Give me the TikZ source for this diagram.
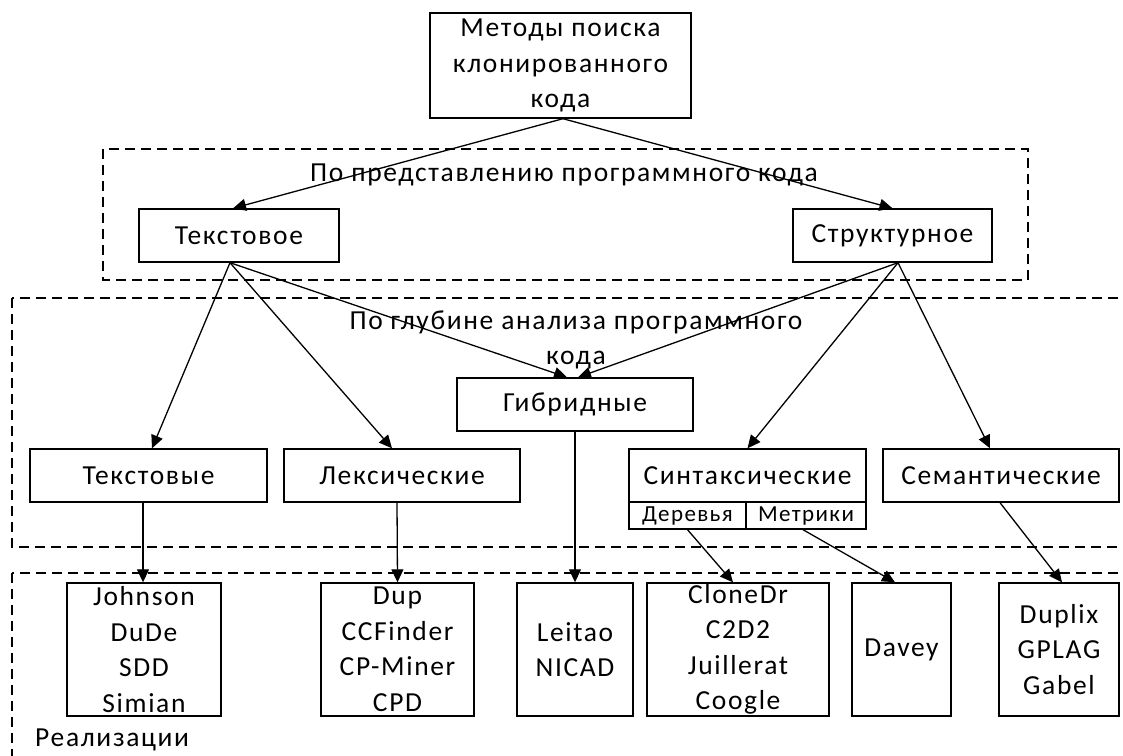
\documentclass[tikz,border=0pt]{standalone}
\usepackage{fontspec}
\setmainfont{Carlito}[LetterSpace=6]
\usetikzlibrary{arrows.meta}
\tikzset{
  box/.style={draw, line width=1.4pt, inner sep=0pt, align=center, font={\fontsize{27.5}{35.5}\selectfont}},
  subbox/.style={draw, line width=1.4pt, inner sep=0pt, align=center, font={\fontsize{23}{23}\selectfont}},
  region/.style={draw, line width=1.4pt, dash pattern=on 10pt off 6pt},
  lbl/.style={inner sep=0pt, align=center, font={\fontsize{27.5}{35.5}\selectfont}},
  conn/.style={line width=1.3pt, -{Triangle[length=13pt,width=12pt]}}
}
\begin{document}
\begin{tikzpicture}[x=1pt, y=-1pt]
\clip (0,0) rectangle (1123,755);
\fill[white] (0,0) rectangle (1123,755);
% regions
\draw[region] (103,149) rectangle (1028,280);
\draw[region] (12,298) rectangle (1140,547);
\draw[region] (12,573) rectangle (1140,790);
% labels
\node[lbl] (l1) at (564,175) {По представлению программного кода};
\node[lbl] (l2) at (576,340) {По глубине анализа программного\\кода};
\node[lbl, anchor=base west] (l3) at (35,746) {Реализации};
% nodes
\node[box, minimum width=261pt, minimum height=105pt] (top) at (560.5,65.5) {Методы поиска\\клонированного\\кода};
\node[box, minimum width=200pt, minimum height=53pt] (tekst) at (239,235.5) {Текстовое};
\node[box, minimum width=199pt, minimum height=53pt] (struct) at (892.5,235.5) {Структурное};
\node[box, minimum width=236pt, minimum height=53pt] (gib) at (575,404.5) {Гибридные};
\node[box, minimum width=237pt, minimum height=53pt] (tv) at (148.5,475.5) {Текстовые};
\node[box, minimum width=236pt, minimum height=53pt] (lex) at (402,475.5) {Лексические};
\node[box, minimum width=237pt, minimum height=53pt] (syn) at (747.5,475.5) {Синтаксические};
\node[box, minimum width=236pt, minimum height=53pt] (sem) at (1001,475.5) {Семантические};
\node[subbox, minimum width=117pt, minimum height=27pt] (der) at (687.5,515.5) {Деревья};
\node[subbox, minimum width=120pt, minimum height=27pt] (met) at (806,515.5) {Метрики};
\node[box, minimum width=154pt, minimum height=133pt] (b1) at (144,649.5) {Johnson\\DuDe\\SDD\\Simian};
\node[box, minimum width=153pt, minimum height=133pt] (b2) at (397.5,649.5) {Dup\\CCFinder\\CP-Miner\\CPD};
\node[box, minimum width=116pt, minimum height=133pt] (b3) at (575,649.5) {Leitao\\NICAD};
\node[box, minimum width=182pt, minimum height=133pt] (b4) at (738,649.5) {CloneDr\\C2D2\\Juillerat\\Coogle};
\node[box, minimum width=99pt, minimum height=133pt] (b5) at (901.5,649.5) {Davey};
\node[box, minimum width=120pt, minimum height=133pt] (b6) at (1059,649.5) {Duplix\\GPLAG\\Gabel};
% connectors
\draw[conn] ([xshift=2.5pt]top.south) -- ([xshift=-6pt]tekst.north);
\draw[conn] ([xshift=2.5pt]top.south) -- (struct.north);
\draw[conn] ([xshift=-9pt]tekst.south) -- ([xshift=3.5pt]tv.north);
\draw[conn] ([xshift=-9pt]tekst.south) -- ([xshift=-10pt]lex.north);
\draw[conn] ([xshift=-9pt]tekst.south) -- ([xshift=-8pt]gib.north);
\draw[conn] ([xshift=5.5pt]struct.south) -- ([xshift=3pt]gib.north);
\draw[conn] ([xshift=5.5pt]struct.south) -- (syn.north);
\draw[conn] ([xshift=5.5pt]struct.south) -- ([xshift=-11pt]sem.north);
\draw[conn] ([xshift=-5.5pt]tv.south) -- ([xshift=-1pt]b1.north);
\draw[conn] ([xshift=-5pt]lex.south) -- (b2.north);
\draw[conn] (gib.south) -- (b3.north);
\draw[conn] (der.south) -- ([xshift=-5pt]b4.north);
\draw[conn] ([xshift=-3pt]met.south) -- ([xshift=-6.5pt]b5.north);
\draw[conn] ([xshift=-1pt]sem.south) -- ([xshift=3pt]b6.north);
\end{tikzpicture}
\end{document}
